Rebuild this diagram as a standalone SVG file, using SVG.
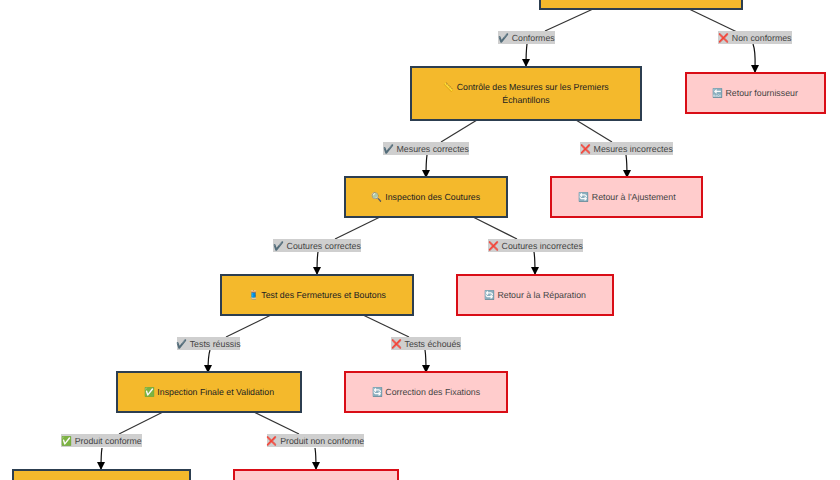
<svg xmlns="http://www.w3.org/2000/svg" width="840" height="480" viewBox="0 0 840 480">
<style>
text{font-family:"Liberation Sans",Arial,sans-serif;font-size:8.8px;text-anchor:middle;dominant-baseline:central;text-rendering:geometricPrecision}
.y rect{fill:#f4b92c;stroke:#2c3e50;stroke-width:2px}
.y text{fill:#222}
.r rect{fill:#ffcccc;stroke:#d90d16;stroke-width:2px}
.r text{fill:#444}
.e{fill:none;stroke:#333;stroke-width:1.2px}
.a{fill:none;stroke:#111;stroke-width:1.2px;marker-end:url(#m)}
.l rect{fill:#cfcfcf}
.l text{fill:#444}
</style>
<defs><marker id="m" markerUnits="userSpaceOnUse" markerWidth="8" markerHeight="8" refX="7" refY="4" orient="auto"><path d="M0 0L8 4L0 8Z" fill="#000"/></marker></defs>
<rect width="840" height="480" fill="#fff"/>
<g id="connectors">
<path class="e" d="M593 9L545 31"/><path class="a" d="M527 44C526 52 526 58 526 66"/>
<path class="e" d="M689 9L737 32"/><path class="a" d="M753 44C756 52 755 62 755 72"/>
<path class="e" d="M477 120L441 142"/><path class="a" d="M427 155C426 162 426 168 426 177"/>
<path class="e" d="M576 120L612 142"/><path class="a" d="M626 155C627 162 627 168 627 177"/>
<path class="e" d="M380 217L335 239"/><path class="a" d="M318 252C317 258 317 265 317 274"/>
<path class="e" d="M473 217L517 239"/><path class="a" d="M534 252C535 258 535 265 535 274"/>
<path class="e" d="M271 315L226 337"/><path class="a" d="M210 350C208 356 208 363 208 372"/>
<path class="e" d="M363 315L409 337"/><path class="a" d="M425 350C426 356 426 363 426 372"/>
<path class="e" d="M163 412L119 434"/><path class="a" d="M102 448C101 454 101 461 101 469"/>
<path class="e" d="M254 412L299 434"/><path class="a" d="M315 448C316 454 316 461 316 469"/>
</g>
<g id="n1" class="y"><rect x="540" y="-20" width="202" height="29"/></g>
<g id="n2" class="y"><rect x="411" y="67" width="230" height="53"/><text x="526" y="86.500">📏 Contrôle des Mesures sur les Premiers</text><text x="526" y="99.500">Échantillons</text></g>
<g id="n3" class="r"><rect x="686" y="73" width="139" height="40"/><text x="755" y="93">🔙 Retour fournisseur</text></g>
<g id="n4" class="y"><rect x="345" y="177" width="162" height="40"/><text x="426" y="197">🔍 Inspection des Coutures</text></g>
<g id="n5" class="r"><rect x="551" y="177" width="151" height="40"/><text x="627" y="197">🔄 Retour à l'Ajustement</text></g>
<g id="n6" class="y"><rect x="221" y="275" width="192" height="40"/><text x="317" y="295">🧵 Test des Fermetures et Boutons</text></g>
<g id="n7" class="r"><rect x="457" y="275" width="156" height="40"/><text x="535" y="295">🔄 Retour à la Réparation</text></g>
<g id="n8" class="y"><rect x="117" y="372" width="184" height="40"/><text x="209" y="392">✅ Inspection Finale et Validation</text></g>
<g id="n9" class="r"><rect x="345" y="372" width="162" height="40"/><text x="426" y="392">🔄 Correction des Fixations</text></g>
<g id="n10" class="y"><rect x="13" y="470" width="177" height="40"/></g>
<g id="n11" class="r"><rect x="234" y="470" width="164" height="40"/></g>
<g id="labels">
<g class="l"><rect x="498" y="31" width="57" height="13"/><text x="526.500" y="37.500">✔️ Conformes</text></g>
<g class="l"><rect x="718" y="31" width="74" height="13"/><text x="755" y="37.500">❌ Non conformes</text></g>
<g class="l"><rect x="383" y="142" width="86" height="13"/><text x="426" y="148.500">✔️ Mesures correctes</text></g>
<g class="l"><rect x="580" y="142" width="93" height="13"/><text x="626.500" y="148.500">❌ Mesures incorrectes</text></g>
<g class="l"><rect x="273" y="239" width="88" height="13"/><text x="317" y="245.500">✔️ Coutures correctes</text></g>
<g class="l"><rect x="488" y="239" width="95" height="13"/><text x="535.500" y="245.500">❌ Coutures incorrectes</text></g>
<g class="l"><rect x="177" y="337" width="63" height="13"/><text x="208.500" y="343.500">✔️ Tests réussis</text></g>
<g class="l"><rect x="391" y="337" width="70" height="13"/><text x="426" y="343.500">❌ Tests échoués</text></g>
<g class="l"><rect x="61" y="434" width="81" height="13"/><text x="101.500" y="440.500">✅ Produit conforme</text></g>
<g class="l"><rect x="267" y="434" width="97" height="13"/><text x="315.500" y="440.500">❌ Produit non conforme</text></g>
</g>
</svg>
